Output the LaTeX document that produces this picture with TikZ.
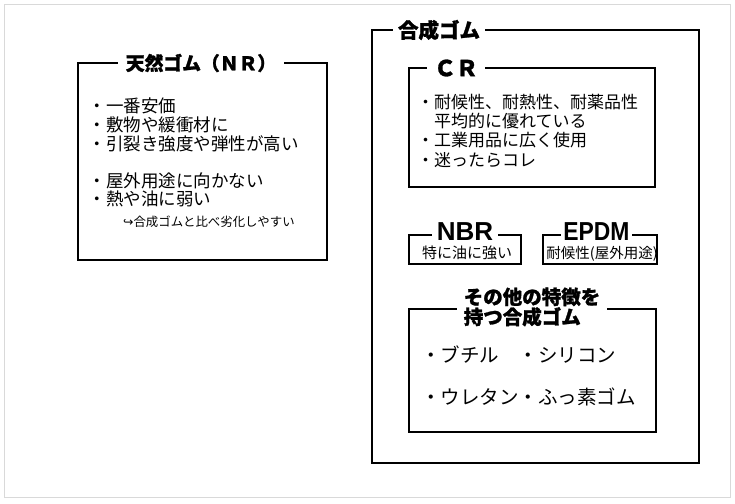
\documentclass[tikz,border=0pt]{standalone}
\usepackage{fontspec}
\setmainfont{Noto Sans CJK JP}
\newfontfamily\ttlf[BoldFeatures={FakeBold=1.3}]{Noto Sans CJK JP}
\newfontfamily\latf{Liberation Sans}
\newfontfamily\dvf{DejaVu Sans}
\newcommand{\fsz}[1]{\fontsize{#1}{#1}\selectfont}
\begin{document}
\begin{tikzpicture}[x=1pt,y=-1pt,
  boxst/.style={draw=black, line width=2pt, inner sep=0pt, outer sep=0pt},
  titlest/.style={fill=white, inner ysep=1pt, font=\ttlf\bfseries},
  latt/.style={fill=white, inner ysep=0pt, text height=18.5pt, text depth=0pt, font=\latf\bfseries},
  bodyst/.style={anchor=base west, inner sep=0pt},
  frame/.style={draw=black!15, line width=1pt}]
\useasboundingbox (0,0) rectangle (735,503);
\draw[frame] (4.5,4.5) rectangle (730,497);

% boxes
\node[boxst, minimum width=249pt, minimum height=197pt] (nr) at (202.5,161.5) {};
\node[boxst, minimum width=327pt, minimum height=433pt] (syn) at (535.5,246.5) {};
\node[boxst, minimum width=246pt, minimum height=119pt] (cr) at (532,127.5) {};
\node[boxst, minimum width=112pt, minimum height=29pt] (nbr) at (465,249.5) {};
\node[boxst, minimum width=114pt, minimum height=29pt] (epdm) at (600,249.5) {};
\node[boxst, minimum width=247pt, minimum height=123pt] (oth) at (532.5,370.5) {};

% titles
\node[titlest, inner xsep=8pt] (nrt) at (201,63) {\fsz{18.8}天然ゴム（ＮＲ）};
\node[titlest, inner xsep=5pt] (synt) at (439,30) {\fsz{20.5}合成ゴム};
\node[titlest, inner xsep=7pt] (crt) at (456,68) {\fsz{22}ＣＲ};
\node[latt, inner xsep=4.5pt] (nbrt) at (465,231.5) {\fsz{26}NBR};
\node[latt, inner xsep=2pt] (epdmt) at (596.5,231.5) {\fsz{26}\scalebox{0.88}[1]{EPDM}};
\node[titlest, inner xsep=6.5pt, align=left] (otht) at (532,307) {\fsz{19.5}その他の特徴を\\\fsz{19.5}持つ合成ゴム};

% NR body
\node[bodyst, font=\fsz{17.5}] (nr1) at (88.5,112.6) {・一番安価};
\node[bodyst, font=\fsz{17.5}] (nr2) at (88.5,131.6) {・敷物や緩衝材に};
\node[bodyst, font=\fsz{17.5}] (nr3) at (88.5,150.6) {・引裂き強度や弾性が高い};
\node[bodyst, font=\fsz{17.5}] (nr4) at (88.5,187.6) {・屋外用途に向かない};
\node[bodyst, font=\fsz{17.5}] (nr5) at (88.5,205.6) {・熱や油に弱い};
\node[bodyst, font=\fsz{12.4}] (nr6) at (123,226.7) {{\dvf ↪}合成ゴムと比べ劣化しやすい};

% CR body
\node[bodyst, font=\fsz{17}] (cr1) at (417,108.5) {・耐候性、耐熱性、耐薬品性};
\node[bodyst, font=\fsz{17}] (cr2) at (434,127.5) {平均的に優れている};
\node[bodyst, font=\fsz{17}] (cr3) at (417,146.5) {・工業用品に広く使用};
\node[bodyst, font=\fsz{17}] (cr4) at (417,166.5) {・迷ったらコレ};

% NBR / EPDM body
\node[anchor=base, inner sep=0pt, font=\fsz{15}] (nbrb) at (467,258.5) {特に油に強い};
\node[anchor=base, inner sep=0pt, font=\fsz{14.5}] (epdmb) at (602,258.3) {耐候性(屋外用途)};

% other body
\node[bodyst, font=\fsz{19.5}] (o1) at (421,362.4) {・ブチル　・シリコン};
\node[bodyst, font=\fsz{19.5}] (o2) at (421,404.4) {・ウレタン・ふっ素ゴム};
\end{tikzpicture}
\end{document}
